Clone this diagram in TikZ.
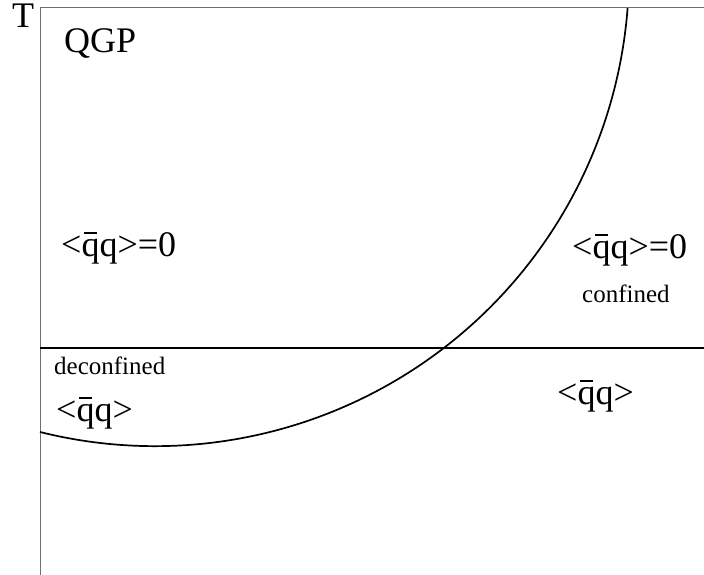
\documentclass[tikz,border=0pt]{standalone}
\usepackage{fontspec}
\setmainfont{Liberation Serif}
\usepackage{xcolor}
\definecolor{axisgray}{HTML}{707070}

\newcommand{\qqbar}{<\rlap{\hspace{0.08em}\rule[0.64em]{0.34em}{0.055em}}qq>}

\begin{document}
\begin{tikzpicture}[x=1pt, y=1pt,
    biglabel/.style={anchor=base west, inner sep=0pt, font=\fontsize{36}{40}\selectfont},
    smalllabel/.style={anchor=base west, inner sep=0pt, font=\fontsize{25}{28}\selectfont}]
        \useasboundingbox (0,0) rectangle (704,575);
        % axes
        \coordinate (origin) at (40,567);
        \coordinate (bottom) at (40,0);
        \coordinate (topright) at (704,567);
        \draw[axisgray, line width=1pt] (bottom) -- (origin) -- (topright);
        % deconfinement line
        \coordinate (lineL) at (40,227);
        \coordinate (lineR) at (704,227);
        \draw[black, line width=1.3pt] (lineL) -- (lineR);
        % chiral transition
        \coordinate (arcstart) at (40,143);
        \draw[black, line width=1.7pt] (arcstart) arc[start angle=255.96, end angle=355.65, radius=474];
        \node[biglabel] (temp) at (12,547) {T};
        \node[biglabel] (qgp) at (64,522) {QGP};
        \node[biglabel] (condL) at (61,318) {\qqbar=0};
        \node[biglabel] (condR) at (572,316) {\qqbar=0};
        \node[smalllabel] (conf) at (582,272) {confined};
        \node[smalllabel] (deconf) at (54,200) {deconfined};
        \node[biglabel] (condBL) at (56,153) {\qqbar};
        \node[biglabel] (condBR) at (557,170) {\qqbar};
      \end{tikzpicture}
\end{document}
